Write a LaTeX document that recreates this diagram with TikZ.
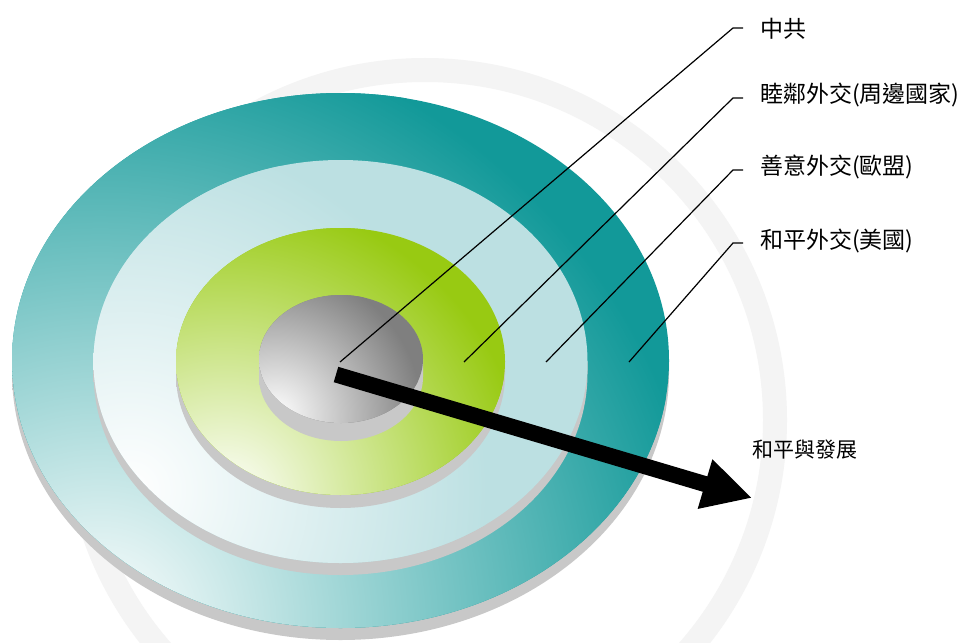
\documentclass[tikz,border=0pt]{standalone}
\usepackage{fontspec}
\newfontfamily\cjk{Noto Sans CJK TC}
\usetikzlibrary{arrows.meta}

\definecolor{tealface}{HTML}{129999}
\definecolor{cyanface}{HTML}{BCE0E2}
\definecolor{limeface}{HTML}{98CA12}
\definecolor{greyface}{HTML}{7F7F7F}
\definecolor{sidelight}{HTML}{C8C8C8}
\definecolor{sidedark}{HTML}{979797}
\definecolor{sealgrey}{HTML}{F4F4F4}

% One tier of the target: grey rim below, shaded top face.
% #1,#2 centre; #3,#4 radii; #5 rim depth; #6 face colour; #7,#8 light spot;
% #9 distance from the light spot at which the face colour is reached
\newcommand\tierdisc[9]{%
  \shade[left color=sidelight, middle color=sidedark, right color=sidelight]
    (#1-#3,#2) -- (#1-#3,#2+#5)
    arc[start angle=180, end angle=0, x radius=#3, y radius=#4]
    -- (#1+#3,#2) -- cycle;
  \fill[#6] (#1,#2) ellipse [x radius=#3, y radius=#4];
  \begin{scope}
    \clip (#1,#2) ellipse [x radius=#3, y radius=#4];
    \shade[inner color=white, outer color=#6] (#7,#8) circle ({1.05*#9});
  \end{scope}}

\tikzset{
  label/.style={font=\cjk\fontsize{23}{27}\selectfont, anchor=west, inner sep=0pt, text=black},
  leader/.style={draw=black, line width=1.2pt},
  bigarrow/.style={line width=16pt, line cap=butt, -{Triangle[length=49pt, width=48pt]}},
}

\begin{document}
\begin{tikzpicture}[x=1pt, y=-1pt]
  \useasboundingbox (0,0) rectangle (968,642);
  \fill[white] (0,0) rectangle (968,642);

  % faint seal in the background
  \draw[sealgrey, line width=24pt] (425,420) circle (350);

  % the four tiers, from the base upwards
  \tierdisc{340.5}{360.5}{328.5}{267.5}{12}{tealface}{100}{625}{580}
  \tierdisc{340.5}{361.5}{247}{201.5}{12}{cyanface}{130}{490}{340}
  \tierdisc{340.5}{361.5}{164.5}{133.5}{13}{limeface}{225}{500}{290}
  \tierdisc{341}{359}{82}{64}{18}{greyface}{275}{415}{140}

  % labels
  \node[label] (l1) at (760,29)  {中共};
  \node[label] (l2) at (760,95)  {睦鄰外交(周邊國家)};
  \node[label] (l3) at (760,167) {善意外交(歐盟)};
  \node[label] (l4) at (760,241) {和平外交(美國)};
  \node[label, font=\cjk\fontsize{21}{25}\selectfont] (l5) at (752,450) {和平與發展};

  % leader ends and elbows
  \coordinate (p1) at (340,362);
  \coordinate (p2) at (464,362);
  \coordinate (p3) at (546,362);
  \coordinate (p4) at (629,362);
  \coordinate (t1) at (743,28);
  \coordinate (t2) at (743,98);
  \coordinate (t3) at (743,170);
  \coordinate (t4) at (743,243);

  \draw[leader] (t1) -- ++(-10,0) -- (p1);
  \draw[leader] (t2) -- ++(-10,0) -- (p2);
  \draw[leader] (t3) -- ++(-10,0) -- (p3);
  \draw[leader] (t4) -- ++(-10,0) -- (p4);

  % heading arrow
  \coordinate (hub) at (336,374.5);
  \coordinate (tip) at (752,498);
  \draw[bigarrow] (hub) -- (tip);
\end{tikzpicture}
\end{document}
